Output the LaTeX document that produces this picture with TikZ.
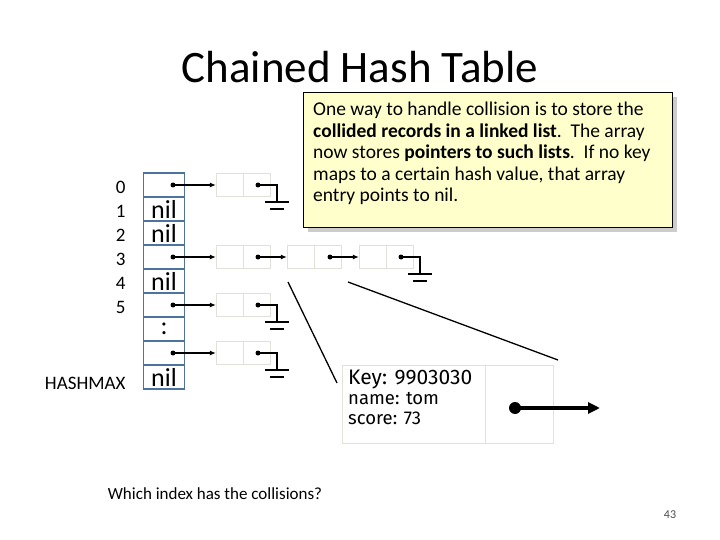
\documentclass[tikz,border=0pt]{standalone}
\usepackage{fontspec}
\setmainfont{Carlito}
\newfontfamily\comic{Fira Sans}
\usetikzlibrary{arrows.meta}
\definecolor{arr}{RGB}{79,115,160}
\definecolor{cellg}{RGB}{225,225,218}
\definecolor{note}{RGB}{255,255,204}
\tikzset{
 acell/.style={draw=arr,line width=1.5pt,minimum width=41pt,minimum height=24pt,inner sep=0pt,font=\fontsize{26}{26}\selectfont,anchor=center},
 lcell/.style={draw=cellg,line width=1.2pt,minimum width=27pt,minimum height=23pt,inner sep=0pt},
 idx/.style={font=\fontsize{19}{19}\selectfont},
 ptr/.style={line width=1.3pt,-{Latex[length=6pt,width=5pt]}},
 gnd/.style={line width=1.6pt},
 dot/.style={circle,fill=black,inner sep=0pt,minimum size=5pt}
}
\newcommand{\grnd}[2]{% name, x y of dot
 \node[dot] (#1d) at (#2) {};
 \coordinate (#1a) at ([xshift=19pt]#1d.center);
 \coordinate (#1b) at ([yshift=-17pt]#1a);
 \draw[gnd] (#1d.center) -- (#1a) -- (#1b);
 \draw[gnd] ([xshift=-12pt]#1b) -- ([xshift=12pt]#1b);
 \draw[gnd] ([xshift=-7pt,yshift=-7pt]#1b) -- ([xshift=7pt,yshift=-7pt]#1b);}
\begin{document}
\begin{tikzpicture}[x=1pt,y=-1pt]
\useasboundingbox (0,0) rectangle (720,540);
\node[font=\fontsize{45}{45}\selectfont] (title) at (360,67) {Chained Hash Table};
% array
\foreach \i/\t in {1/,2/nil,3/nil,4/,5/nil,6/,7/:,8/,9/nil}{
 \node[acell] (c\i) at (164,{161+24*\i}) {\t};}
\foreach \i/\t in {1/0,2/1,3/2,4/3,5/4,6/5}{
 \node[idx,anchor=east] (i\i) at (129,{161+24*\i+2}) {\t};}
\node[idx,anchor=east] (ih) at (129,383) {HASHMAX};
% list rows
\foreach \r in {1,4,6,8}{
 \node[lcell] (a\r) at (230,{161+24*\r}) {};
 \node[lcell] (b\r) at (257,{161+24*\r}) {};
 \node[dot] (p\r) at (173,{161+24*\r}) {};
 \draw[ptr] (p\r.center) -- (a\r.west);}
\node[lcell] (a4b) at (301,257) {};
\node[lcell] (b4b) at (328,257) {};
\node[lcell] (a4c) at (373,257) {};
\node[lcell] (b4c) at (400,257) {};
\node[dot] (q1) at (258,257) {};
\node[dot] (q2) at (330,257) {};
\draw[ptr] (q1.center) -- (a4b.west);
\draw[ptr] (q2.center) -- (a4c.west);
\grnd{g1}{258,185}
\grnd{g6}{258,305}
\grnd{g8}{258,353}
\grnd{g4}{401,257}
% zoom lines
\node[draw=cellg,line width=1.2pt,minimum width=143pt,minimum height=78pt,anchor=north west,inner sep=0pt] (rec) at (342,365) {};
\node[draw=cellg,line width=1.2pt,minimum width=68pt,minimum height=78pt,anchor=north west,inner sep=0pt] (rec2) at (485,365) {};
\node[anchor=north west,align=left,font=\comic\fontsize{21}{23}\selectfont,inner sep=0pt] (rt) at (348,370) {Key: 9903030\\[-3pt] \fontsize{18.5}{21}\selectfont name: tom\\[-3pt]\fontsize{18.5}{21}\selectfont score: 73};
\coordinate (z1) at (288,282);
\coordinate (z2) at (337,383);
\coordinate (z3) at (348,282);
\coordinate (z4) at (558,360);
\draw[line width=1.3pt] (z1) -- (z2);
\draw[line width=1.3pt] (z3) -- (z4);
\node[circle,fill=black,inner sep=0pt,minimum size=12pt] (bd) at (515,408) {};
\coordinate (be) at (600,408);
\draw[line width=3.5pt,-{Triangle[length=12pt,width=11pt]}] (bd.center) -- (be);
% note
\fill[black!20] (308,97) rectangle (677,232);
\node[draw,fill=note,line width=1.2pt,minimum width=369pt,minimum height=135pt,anchor=north west,inner sep=0pt] (nb) at (303,92) {};
\node[anchor=north west,align=left,font=\fontsize{19.5}{21.5}\selectfont,inner sep=0pt] (nt) at (313,102) {One way to handle collision is to store the\\\textbf{collided records in a linked list}.\ \ The array\\now stores \textbf{pointers to such lists}.\ \ If no key\\maps to a certain hash value, that array\\entry points to nil.};
\node[font=\fontsize{17}{17}\selectfont] (q) at (215,494) {Which index has the collisions?};
\node[font=\fontsize{12}{12}\selectfont,text=black!70] (pg) at (670,515) {43};
\end{tikzpicture}
\end{document}
